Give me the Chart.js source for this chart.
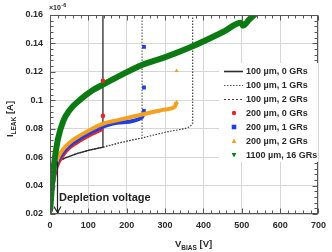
<!DOCTYPE html>
<html><head><meta charset="utf-8">
<script src="https://cdn.jsdelivr.net/npm/chart.js@4"></script>
<style>html,body{margin:0;padding:0;background:#fff;overflow:hidden}</style>
</head><body>
<canvas id="c" width="332" height="252"></canvas>
<script>
// ---- data ----
const xTickLabels = ['0','100','200','300','400','500','600','700'];
const yTickLabels = ['0.02','0.04','0.06','0.08','0.1','0.12','0.14','0.16'];
const seriesNames = ['100 \u00b5m, 0 GRs','100 \u00b5m, 1 GRs','100 \u00b5m, 2 GRs','200 \u00b5m, 0 GRs','200 \u00b5m, 1 GRs','200 \u00b5m, 2 GRs','1100 \u00b5m, 16 GRs'];

// 100 um sensors (lines)
const v100_0 = [0,3,6,10,14,18,25,40,70,100,138,138];
const i100_0 = [0.021,0.028,0.036,0.044,0.051,0.055,0.0575,0.0595,0.0625,0.0648,0.067,0.17];
const v100_1 = [0,3,6,10,14,18,25,40,70,100,138,180,240,240];
const i100_1 = [0.021,0.028,0.036,0.044,0.051,0.055,0.0575,0.0595,0.0625,0.0648,0.067,0.070,0.0735,0.17];
const v100_2 = [0,3,6,10,14,18,25,40,70,100,138,180,240,300,350,365,372,372];
const i100_2 = [0.021,0.028,0.036,0.044,0.051,0.055,0.0575,0.0595,0.0625,0.0648,0.067,0.070,0.0735,0.0775,0.080,0.0815,0.0835,0.17];

// 200 um sensors (markers)
const v200_0 = [0,3,6,10,15,20,30,50,80,110,138];
const i200_0 = [0.021,0.029,0.037,0.045,0.051,0.055,0.060,0.0665,0.072,0.0765,0.080];
const v200_0bd = [138,138];
const i200_0bd = [0.089,0.1137];
const v200_1 = [0,3,6,10,15,20,30,50,80,110,138,180,240,245];
const i200_1 = [0.021,0.030,0.038,0.046,0.053,0.057,0.062,0.068,0.0735,0.078,0.0815,0.0843,0.088,0.0925];
const v200_1bd = [245,245];
const i200_1bd = [0.109,0.1376];
const v200_2 = [0,3,6,10,15,20,30,50,80,110,138,180,240,300,325,330];
const i200_2 = [0.022,0.031,0.040,0.048,0.055,0.059,0.064,0.070,0.0755,0.080,0.0835,0.0862,0.090,0.0935,0.0955,0.0985];
const v200_2bd = [330];
const i200_2bd = [0.1207];

// 1100 um sensor
const v1100 = [0,3,5,8,13,21,34,51,77,111,138,180,241,297,372,451,498,503,520,545];
const i1100 = [0.022,0.032,0.040,0.049,0.060,0.073,0.085,0.093,0.100,0.107,0.111,0.117,0.125,0.130,0.138,0.148,0.1545,0.1525,0.157,0.163];

const depletionV = 18;
const depletionI = 0.057;

const pts = (xs, ys) => xs.map((x, i) => ({x, y: ys[i]}));

const RED = '#e8262a', BLUE = '#1f3fe0', ORANGE = '#f7a020', GREEN = '#0b7a12', DARK = '#2b2b2b';

function lastOnly(r){ return c => c.dataIndex === c.dataset.data.length - 1 ? r : 0; }

const datasets = [
  {label: seriesNames[0], data: pts(v100_0, i100_0), showLine: true, borderColor: DARK, borderWidth: 1.3, pointRadius: 0, order: 20},
  {label: seriesNames[1], data: pts(v100_1, i100_1), showLine: true, borderColor: '#555', borderWidth: 1.1, borderDash: [1.5,1.5], pointRadius: 0, order: 21},
  {label: seriesNames[2], data: pts(v100_2, i100_2), showLine: true, borderColor: '#333', borderWidth: 1.1, borderDash: [1.5,1.5], pointRadius: 0, order: 22},
  {label: seriesNames[3], data: pts(v200_0, i200_0), showLine: true, borderColor: RED, backgroundColor: RED, borderWidth: 4, cubicInterpolationMode: 'monotone', pointRadius: 0, order: 8},
  {label: seriesNames[4], data: pts(v200_1, i200_1), showLine: true, borderColor: BLUE, backgroundColor: BLUE, borderWidth: 4, cubicInterpolationMode: 'monotone', pointStyle: 'rect', pointRadius: lastOnly(2.6), pointBorderWidth: 0, order: 7},
  {label: seriesNames[5], data: pts(v200_2, i200_2), showLine: true, borderColor: ORANGE, backgroundColor: ORANGE, borderWidth: 4, cubicInterpolationMode: 'monotone', pointStyle: 'triangle', pointRadius: lastOnly(2.6), pointBorderWidth: 0, order: 6},
  {label: seriesNames[6], data: pts(v1100, i1100), showLine: true, borderColor: GREEN, backgroundColor: GREEN, borderWidth: 6, cubicInterpolationMode: 'monotone', pointRadius: 0, order: 5},
  {label: 'bd0', data: pts(v200_0bd, i200_0bd), showLine: false, backgroundColor: RED, borderColor: RED, pointStyle: 'circle', pointRadius: 2.3, pointBorderWidth: 0, order: 1},
  {label: 'bd1', data: pts(v200_1bd, i200_1bd), showLine: false, backgroundColor: BLUE, borderColor: BLUE, pointStyle: 'rect', pointRadius: 2.7, pointBorderWidth: 0, order: 1},
  {label: 'bd2', data: pts(v200_2bd, i200_2bd), showLine: false, backgroundColor: ORANGE, borderColor: ORANGE, pointStyle: 'triangle', pointRadius: 2.4, pointBorderWidth: 0, order: 1}
];

const FONT = '"Liberation Sans", Arial, sans-serif';
const TXT = '#2a2a2a';

function drawMarker(ctx, style, x, y, r, color){
  ctx.fillStyle = color;
  ctx.beginPath();
  if (style === 'circle') { ctx.arc(x, y, r, 0, Math.PI*2); }
  else if (style === 'rect') { ctx.rect(x - r, y - r, 2*r, 2*r); }
  else if (style === 'tri') { ctx.moveTo(x, y - r); ctx.lineTo(x + r, y + r*0.8); ctx.lineTo(x - r, y + r*0.8); ctx.closePath(); }
  else if (style === 'tridown') { ctx.moveTo(x, y + r); ctx.lineTo(x + r, y - r*0.8); ctx.lineTo(x - r, y - r*0.8); ctx.closePath(); }
  ctx.fill();
}

const extras = {
  id: 'extras',
  beforeDraw(chart){
    const ctx = chart.ctx;
    ctx.save(); ctx.fillStyle = '#fff'; ctx.fillRect(0,0,chart.width,chart.height); ctx.restore();
  },
  afterDraw(chart){
    const ctx = chart.ctx, ca = chart.chartArea, xs = chart.scales.x, ys = chart.scales.y;
    ctx.save();
    // frame
    ctx.strokeStyle = '#555'; ctx.lineWidth = 1;
    const L = Math.round(ca.left)+0.5, R = Math.round(ca.right)-0.5, T = Math.round(ca.top)+0.5, B = Math.round(ca.bottom)-0.5;
    ctx.strokeRect(L, T, R-L, B-T);
    // ticks
    ctx.beginPath();
    for (let k = 0; k <= 35; k++){
      const px = Math.round(xs.getPixelForValue(k*20)) + 0.5;
      const len = k % 5 === 0 ? 5 : 3;
      ctx.moveTo(px, B); ctx.lineTo(px, B - len);
      ctx.moveTo(px, T); ctx.lineTo(px, T + len);
    }
    for (let k = 0; k <= 35; k++){
      const py = Math.round(ys.getPixelForValue(0.02 + k*0.004)) + 0.5;
      const len = k % 5 === 0 ? 5 : 3;
      ctx.moveTo(L, py); ctx.lineTo(L + len, py);
      ctx.moveTo(R, py); ctx.lineTo(R - len, py);
    }
    ctx.stroke();

    // legend
    ctx.fillStyle = '#fff';
    ctx.fillRect(219, 63, 99, 99);
    const styles = [
      {t:'line', dash:[], c:DARK, w:1.6},
      {t:'line', dash:[1.5,1.5], c:'#555', w:1.1},
      {t:'line', dash:[2,2], c:'#444', w:1.1},
      {t:'m', s:'circle', c:RED, r:2.2},
      {t:'m', s:'rect', c:BLUE, r:2.3},
      {t:'m', s:'tri', c:ORANGE, r:2.4},
      {t:'m', s:'tridown', c:GREEN, r:2.4}
    ];
    ctx.font = 'bold 9px ' + FONT;
    ctx.textBaseline = 'middle';
    ctx.textAlign = 'left';
    styles.forEach((st, i) => {
      const y = 71 + 14*i;
      if (st.t === 'line'){
        ctx.save();
        ctx.strokeStyle = st.c; ctx.lineWidth = st.w; ctx.setLineDash(st.dash);
        ctx.beginPath(); ctx.moveTo(224, y + 0.5); ctx.lineTo(243, y + 0.5); ctx.stroke();
        ctx.restore();
      } else {
        drawMarker(ctx, st.s, 234, y, st.r, st.c);
      }
      ctx.fillStyle = TXT;
      ctx.fillText(seriesNames[i], 246, y + 0.5);
    });

    // depletion arrow
    const ax = Math.round(xs.getPixelForValue(depletionV)) + 0.5;
    const ay1 = ys.getPixelForValue(depletionI);
    const ay2 = B - 1;
    ctx.strokeStyle = '#222'; ctx.lineWidth = 1.2; ctx.setLineDash([]);
    ctx.beginPath();
    ctx.moveTo(ax, ay1); ctx.lineTo(ax, ay2);
    ctx.moveTo(ax - 3.5, ay2 - 6); ctx.lineTo(ax, ay2); ctx.lineTo(ax + 3.5, ay2 - 6);
    ctx.stroke();
    ctx.fillStyle = '#222';
    ctx.font = 'bold 11px ' + FONT;
    ctx.fillText('Depletion voltage', ax + 1.5, 198);

    // x10^-6
    ctx.fillStyle = TXT;
    ctx.font = 'bold 7px ' + FONT;
    ctx.fillText('\u00d710', 49, 8);
    const w10 = ctx.measureText('\u00d710').width;
    ctx.font = 'bold 5.5px ' + FONT;
    ctx.fillText('-6', 49 + w10 + 0.5, 5);

    // x axis title V_BIAS [V]
    ctx.textBaseline = 'alphabetic';
    let x0 = 175;
    ctx.font = 'bold 9.5px ' + FONT; ctx.fillText('V', x0, 247); x0 += ctx.measureText('V').width;
    ctx.font = 'bold 6.5px ' + FONT; ctx.fillText('BIAS', x0, 249.5); x0 += ctx.measureText('BIAS').width;
    ctx.font = 'bold 9.5px ' + FONT; ctx.fillText(' [V]', x0, 247);

    // y axis title I_LEAK [A]
    ctx.save();
    ctx.translate(13, 119);
    ctx.rotate(-Math.PI/2);
    ctx.font = 'bold 9.5px ' + FONT; const wI = ctx.measureText('I').width; const wA = ctx.measureText(' [A]').width;
    ctx.font = 'bold 6.5px ' + FONT; const wL = ctx.measureText('LEAK').width;
    let s = -(wI + wL + wA)/2;
    ctx.font = 'bold 9.5px ' + FONT; ctx.fillText('I', s, 0); s += wI;
    ctx.font = 'bold 6.5px ' + FONT; ctx.fillText('LEAK', s, 2.5); s += wL;
    ctx.font = 'bold 9.5px ' + FONT; ctx.fillText(' [A]', s, 0);
    ctx.restore();

    ctx.restore();
  }
};

new Chart(document.getElementById('c'), {
  type: 'scatter',
  data: {datasets},
  plugins: [extras],
  options: {
    responsive: false,
    animation: false,
    devicePixelRatio: 1,
    layout: {padding: {top: 15, right: 9, left: 0, bottom: 0}},
    plugins: {legend: {display: false}, tooltip: {enabled: false}},
    scales: {
      x: {
        type: 'linear', min: 0, max: 700,
        afterFit: s => { s.height = 38; },
        border: {display: false},
        grid: {color: '#d6d6d6', lineWidth: 1, drawTicks: false},
        ticks: {stepSize: 100, padding: 6, color: TXT, font: {family: FONT, size: 9, weight: 'bold'},
          callback: (v) => xTickLabels[Math.round(v/100)] ?? ''}
      },
      y: {
        type: 'linear', min: 0.02, max: 0.16,
        afterFit: s => { s.width = 50; },
        border: {display: false},
        grid: {color: '#d6d6d6', lineWidth: 1, drawTicks: false},
        ticks: {stepSize: 0.02, padding: 7, color: TXT, font: {family: FONT, size: 9, weight: 'bold'},
          callback: (v) => yTickLabels[Math.round((v-0.02)/0.02)] ?? ''}
      }
    }
  }
});
</script>
</body></html>
